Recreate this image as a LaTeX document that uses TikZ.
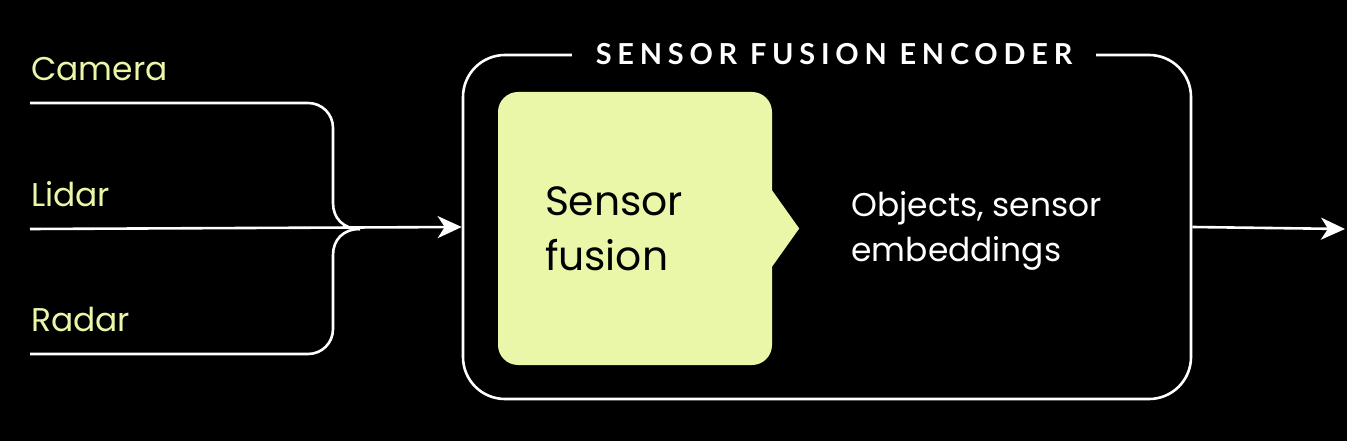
\documentclass[tikz,border=0pt]{standalone}
\usepackage{fontspec}
\setmainfont{Poppins}
\newfontfamily\titlefont[LetterSpace=20]{Lato}
\usetikzlibrary{arrows.meta,positioning}
\definecolor{lime}{HTML}{EAF7A8}
\begin{document}
\begin{tikzpicture}[x=1bp, y=-1bp,
  wire/.style={draw=white, line width=2.6bp},
  flow/.style={wire, -{Stealth[length=24bp,width=22bp,inset=7bp]}},
  src/.style={text=lime, font=\fontsize{33}{40}\selectfont, anchor=base west, inner sep=0pt},
  encbox/.style={draw=white, line width=2.6bp, rounded corners=42bp, minimum width=728bp, minimum height=344bp},
  fusebox/.style={fill=lime, rounded corners=20bp, minimum width=274bp, minimum height=273bp, text width=180bp, align=left, font=\fontsize{41}{55}\selectfont},
  heading/.style={fill=black, text=white, inner xsep=24bp, font=\titlefont\bfseries\fontsize{29}{32}\selectfont}
]
\fill[black] (0,0) rectangle (1347,441);
\useasboundingbox (0,0) rectangle (1347,441);
\node[src] (camera) at (31,81) {Camera};
\node[src] (lidar) at (31,207) {Lidar};
\node[src] (radar) at (31,332) {Radar};
\coordinate (camin) at (30,103);
\coordinate (lidin) at (30,229);
\coordinate (radin) at (30,354);
\coordinate (merge) at (360,229);
\node[encbox] (encoder) at (827,227) {};
\node[heading] (title) at ([xshift=7bp]encoder.north) {SENSOR FUSION ENCODER};
\node[fusebox] (fusion) at (635,228.5) {Sensor\\fusion};
\fill[lime] ([yshift=38bp]fusion.east) -- ([xshift=27bp]fusion.east) -- ([yshift=-38bp]fusion.east) -- cycle;
\node[anchor=west, text=white, align=left, font=\fontsize{33}{46}\selectfont] (objects) at (848,231) {Objects, sensor\\embeddings};
\coordinate (out) at (1345,229);
\draw[wire] (camin) -- (308,103) .. controls (322,103) and (333,114) .. (333,128) -- (333,203) .. controls (333,218) and (343,229) .. (merge);
\draw[wire] (radin) -- (308,354) .. controls (322,354) and (333,343) .. (333,329) -- (333,255) .. controls (333,240) and (343,229) .. (merge);
\draw[flow] (lidin) -- (encoder.west);
\draw[flow] (encoder.east) -- (out);
\end{tikzpicture}
\end{document}
